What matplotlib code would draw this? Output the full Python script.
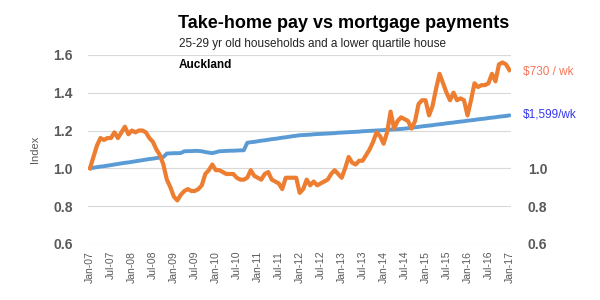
import matplotlib
matplotlib.use("Agg")
import matplotlib.pyplot as plt
import pandas as pd

plt.rcParams['font.family'] = ['Liberation Sans', 'DejaVu Sans']

# monthly index values, Jan-2007 .. Jan-2017
mortgage = [
    1.00, 1.06, 1.12, 1.16, 1.15, 1.16, 1.16, 1.19, 1.16, 1.19,
    1.22, 1.18, 1.20, 1.19, 1.20, 1.20, 1.19, 1.16, 1.14, 1.10,
    1.07, 1.02, 0.94, 0.90, 0.85, 0.83, 0.86, 0.88, 0.89, 0.88,
    0.88, 0.89, 0.91, 0.97, 0.99, 1.02, 0.99, 0.99, 0.98, 0.97,
    0.97, 0.97, 0.95, 0.94, 0.94, 0.95, 0.99, 0.96, 0.95, 0.94,
    0.97, 0.98, 0.94, 0.93, 0.92, 0.89, 0.95, 0.95, 0.95, 0.95,
    0.87, 0.89, 0.94, 0.91, 0.93, 0.91, 0.92, 0.93, 0.94, 0.97,
    0.99, 0.97, 0.95, 1.00, 1.06, 1.03, 1.02, 1.04, 1.04, 1.07,
    1.10, 1.14, 1.19, 1.17, 1.13, 1.19, 1.30, 1.21, 1.25, 1.27,
    1.26, 1.25, 1.21, 1.25, 1.34, 1.36, 1.36, 1.28, 1.33, 1.42,
    1.50, 1.45, 1.40, 1.36, 1.40, 1.36, 1.37, 1.36, 1.28, 1.36,
    1.45, 1.43, 1.44, 1.44, 1.45, 1.50, 1.46, 1.55, 1.56, 1.55,
    1.52,
]
take_home = [
    1.000, 1.003, 1.006, 1.009, 1.011, 1.014, 1.017, 1.020, 1.023, 1.026,
    1.029, 1.031, 1.034, 1.037, 1.040, 1.043, 1.046, 1.049, 1.051, 1.054,
    1.057, 1.060, 1.078, 1.079, 1.080, 1.080, 1.081, 1.090, 1.091, 1.091,
    1.092, 1.092, 1.090, 1.086, 1.083, 1.080, 1.085, 1.090, 1.091, 1.092,
    1.093, 1.093, 1.094, 1.095, 1.095, 1.135, 1.138, 1.140, 1.143, 1.146,
    1.148, 1.151, 1.154, 1.156, 1.159, 1.162, 1.164, 1.167, 1.170, 1.172,
    1.175, 1.176, 1.177, 1.178, 1.180, 1.181, 1.182, 1.183, 1.184, 1.185,
    1.186, 1.188, 1.189, 1.190, 1.191, 1.192, 1.193, 1.194, 1.196, 1.197,
    1.198, 1.199, 1.200, 1.201, 1.202, 1.204, 1.205, 1.206, 1.207, 1.208,
    1.210, 1.212, 1.215, 1.217, 1.219, 1.222, 1.224, 1.226, 1.228, 1.231,
    1.233, 1.235, 1.238, 1.240, 1.242, 1.245, 1.247, 1.249, 1.252, 1.254,
    1.256, 1.259, 1.261, 1.263, 1.266, 1.268, 1.270, 1.273, 1.275, 1.277,
    1.280,
]
months = pd.date_range("2007-01-01", periods=len(mortgage), freq="MS")
tick_labels = [d.strftime("%b-%y") for d in months[::6]]
left_ticks = [0.6, 0.8, 1.0, 1.2, 1.4, 1.6]
right_ticks = [0.6, 0.8, 1.0]

grey = "#595959"
fig = plt.figure(figsize=(6, 3), dpi=100)
ax = fig.add_axes([0.147, 0.187, 0.705, 0.630])

x = list(range(len(months)))
ax.plot(x, take_home, color="#5B9BD5", lw=2.8, solid_capstyle="round", zorder=3)
ax.plot(x, mortgage, color="#ED7D31", lw=3.0, solid_joinstyle="round", zorder=4)

ax.set_ylim(0.6, 1.6)
ax.set_xlim(-0.5, len(months) - 0.5)
ax.set_yticks(left_ticks)
ax.set_yticklabels([f"{v:.1f}" for v in left_ticks], fontsize=10, fontweight="bold", color=grey)
ax.set_xticks(x[::6])
ax.set_xticklabels(tick_labels, rotation=90, fontsize=7.5, color=grey)
ax.tick_params(length=0)
ax.tick_params(axis="y", pad=11)
ax.tick_params(axis="x", pad=5)
ax.grid(axis="y", color="#D9D9D9", lw=0.8)
ax.set_axisbelow(True)
for s in ax.spines.values():
    s.set_visible(False)
ax.set_ylabel("Index", fontsize=8, color=grey, labelpad=10)

ax2 = ax.twinx()
ax2.set_ylim(0.6, 1.6)
ax2.set_yticks(right_ticks)
ax2.set_yticklabels([f"{v:.1f}" for v in right_ticks], fontsize=10, fontweight="bold", color=grey)
ax2.tick_params(length=0, pad=12)
for s in ax2.spines.values():
    s.set_visible(False)

fig.text(0.572, 0.905, "Take-home pay vs mortgage payments", ha="center", va="baseline",
         fontsize=13, fontweight="bold", color="black")
fig.text(0.298, 0.852, "25-29 yr old households and a lower quartile house", ha="left",
         va="center", fontsize=8.5, color="#222222")
fig.text(0.298, 0.783, "Auckland", ha="left", va="center", fontsize=8.5, fontweight="bold", color="black")
fig.text(0.872, 0.760, "$730 / wk", ha="left", va="center", fontsize=8.5, color="#F4775A")
fig.text(0.872, 0.617, "$1,599/wk", ha="left", va="center", fontsize=8.5, color="#3636F0")

fig.savefig("out.png", dpi=100)
